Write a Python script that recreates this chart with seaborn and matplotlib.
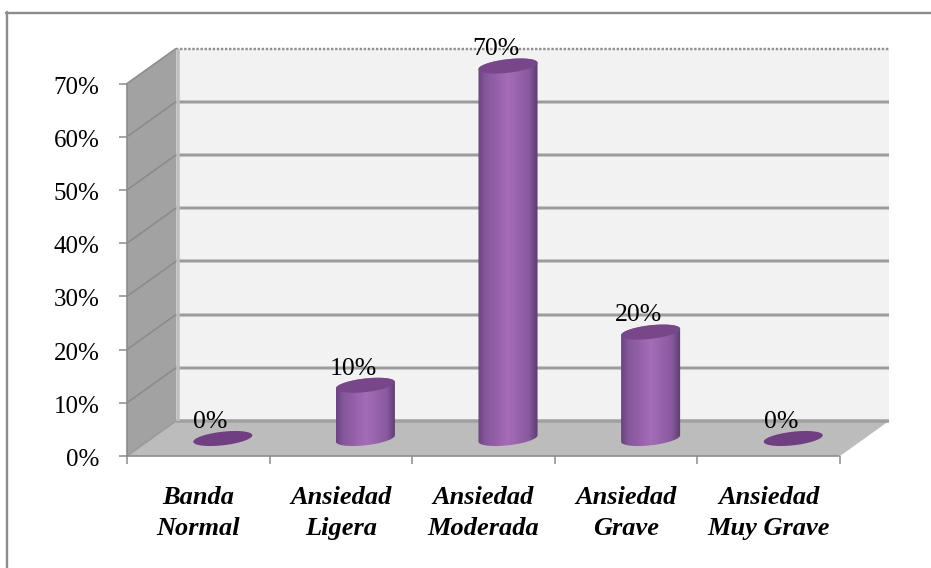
import numpy as np
import pandas as pd
import seaborn as sns
import matplotlib
matplotlib.use("Agg")
import matplotlib.pyplot as plt
from matplotlib.colors import LinearSegmentedColormap
from matplotlib.lines import Line2D
from matplotlib.patches import Polygon
from matplotlib.ticker import FixedLocator, FixedFormatter
from matplotlib.transforms import Affine2D

categories = ["Banda\nNormal", "Ansiedad\nLigera", "Ansiedad\nModerada",
              "Ansiedad\nGrave", "Ansiedad\nMuy Grave"]
values = [0.0, 0.10, 0.70, 0.20, 0.0]
value_labels = ["0%", "10%", "70%", "20%", "0%"]
y_ticks = [0.0, 0.1, 0.2, 0.3, 0.4, 0.5, 0.6, 0.7]
y_tick_labels = ["0%", "10%", "20%", "30%", "40%", "50%", "60%", "70%"]

sns.set_theme(style="white")
plt.rcParams["font.family"] = ["Liberation Serif", "DejaVu Serif"]

W, H = 931, 568
DEPTH_X, DEPTH_Y = 49, 35          # pixel shift from the front plane to the back wall
FRONT_L, FRONT_R = 127, 840
FRONT_BOTTOM, FRONT_TOP = 456, 83.5  # pixels from the top edge

fig = plt.figure(figsize=(W / 100, H / 100), dpi=100, facecolor="white")

# Frame around the chart area: only its top and left sides are on the canvas
frame_y = H - 13
frame_x = 7
fig.add_artist(Line2D([frame_x - 1, W], [frame_y, frame_y], transform=None,
                      color="#8c8c8c", lw=1.7))
fig.add_artist(Line2D([frame_x, frame_x], [0, frame_y + 1], transform=None,
                      color="#8c8c8c", lw=1.7))


def front_rect(shift_x=0.0, shift_y=0.0):
    return [(FRONT_L + shift_x) / W, (H - FRONT_BOTTOM + shift_y) / H,
            (FRONT_R - FRONT_L) / W, (FRONT_BOTTOM - FRONT_TOP) / H]


ax = fig.add_axes(front_rect(), zorder=1)
ax.set_xlim(-0.5, 4.5)
ax.set_ylim(0, 0.7)
ax.patch.set_visible(False)


def px(x, y, depth):
    """Pixel position of a data point at a relative depth into the chart box."""
    p = ax.transData.transform((x, y))
    return p[0] + DEPTH_X * depth, p[1] + DEPTH_Y * depth


def face(corners, color, zorder):
    ax.add_patch(Polygon([px(*c) for c in corners], closed=True, transform=None,
                         facecolor=color, edgecolor="none", clip_on=False, zorder=zorder))


def edge(a, b, color, width, zorder, style="-"):
    pa, pb = px(*a), px(*b)
    ax.plot([pa[0], pb[0]], [pa[1], pb[1]], transform=None, color=color, lw=width * 0.72,
            ls=style, clip_on=False, zorder=zorder, solid_capstyle="butt")


# Box: back wall, side wall and floor
xl, xr, top = -0.5, 4.5, 0.7
face([(xl, 0, 1), (xr, 0, 1), (xr, top, 1), (xl, top, 1)], "#f2f2f2", 0)
face([(xl, 0, 0), (xl, top, 0), (xl, top, 1), (xl, 0, 1)], "#a2a2a2", 0.1)
face([(xl, 0, 0), (xr, 0, 0), (xr, 0, 1), (xl, 0, 1)], "#bcbcbc", 0.1)

for v in y_ticks[1:-1]:
    edge((xl, v, 1), (xr, v, 1), "#c6c6c6", 4, 0.2)
    edge((xl, v, 1), (xr, v, 1), "#9c9c9c", 2, 0.3)
    edge((xl, v, 0), (xl, v, 1), "#8a8a8a", 1.5, 0.3)
edge((xl, top, 1), (xr, top, 1), "#8f8f8f", 2.4, 0.4, (0, (1, 0.7)))
edge((xl, top, 0), (xl, top, 1), "#8a8a8a", 1.5, 0.4)
edge((xl, 0, 1), (xr, 0, 1), "#a0a0a0", 3.5, 0.4)
edge((xl, 0, 0), (xl, 0, 1), "#9a9a9a", 1.5, 0.4)
edge((xl + 0.012, 0, 1), (xl + 0.012, top, 1), "#bdbdbd", 3.5, 0.4)

# Front axes
for side in ("top", "right"):
    ax.spines[side].set_visible(False)
for side in ("left", "bottom"):
    ax.spines[side].set_color("#8c8c8c")
    ax.spines[side].set_linewidth(1.2)
    ax.spines[side].set_linestyle((0, (1, 1)))
ax.yaxis.set_major_locator(FixedLocator(y_ticks))
ax.yaxis.set_major_formatter(FixedFormatter(y_tick_labels))
ax.xaxis.set_major_locator(FixedLocator(range(len(categories))))
ax.xaxis.set_major_formatter(FixedFormatter(categories))
ax.xaxis.set_minor_locator(FixedLocator(np.arange(-0.5, 5, 1)))
ax.tick_params(axis="y", which="major", left=True, length=5.8, width=1.1, color="#8c8c8c",
               labelsize=18, labelcolor="black", pad=14)
ax.tick_params(axis="x", which="major", bottom=False, length=0, pad=21.5)
ax.tick_params(axis="x", which="minor", bottom=True, length=5.4, width=1.1, color="#8c8c8c")
for lab in ax.get_yticklabels():
    lab.set_transform(lab.get_transform() + Affine2D().translate(0, -1.5))
for lab in ax.get_xticklabels():
    lab.set(fontsize=19, fontweight="bold", fontstyle="italic", color="black",
            linespacing=1.47, ha="center", va="top")

# Columns sit halfway into the box, on a transparent copy of the axes
bar_ax = fig.add_axes(front_rect(DEPTH_X / 2, DEPTH_Y / 2), zorder=2)
table = pd.DataFrame({"category": categories, "value": values})
sns.barplot(data=table, x="category", y="value", color="#a56cb8", width=0.414,
            errorbar=None, ax=bar_ax)
bar_ax.set_xlim(-0.5, 4.5)
bar_ax.set_ylim(0, 0.7)
bar_ax.axis("off")

px_y = (FRONT_BOTTOM - FRONT_TOP) / 0.7   # pixels per unit of value
RIM_B = 6.8 / px_y
RIM_TILT = 3.2 / px_y

shade = LinearSegmentedColormap.from_list(
    "cylinder", [(0, "#6a4480"), (0.12, "#85569b"), (0.5, "#a56cb8"),
                 (0.84, "#8a5aa0"), (0.95, "#6c4580"), (1, "#5d3a70")])


def rim(cx, a, base, t):
    return cx + a * np.cos(t), base + RIM_B * np.sin(t) + RIM_TILT * np.cos(t)


for patch, label in zip(list(bar_ax.patches), value_labels):
    x0, width, height = patch.get_x(), patch.get_width(), patch.get_height()
    patch.set_visible(False)
    cx, a = x0 + width / 2, width / 2
    if height > 0:
        lower = np.linspace(np.pi, 2 * np.pi, 40)
        upper = np.linspace(0, np.pi, 40)
        xs = np.r_[rim(cx, a, 0, lower)[0], rim(cx, a, height, upper)[0]]
        ys = np.r_[rim(cx, a, 0, lower)[1], rim(cx, a, height, upper)[1]]
        outline = Polygon(np.c_[xs, ys], closed=True, transform=bar_ax.transData)
        body = bar_ax.imshow(np.linspace(0, 1, 256)[None, :], cmap=shade, aspect="auto",
                             extent=[x0, x0 + width, -0.05, height + 0.05], zorder=3)
        body.set_clip_box(fig.bbox)
        body.set_clip_path(outline)
    cap = np.linspace(0, 2 * np.pi, 80)
    cap_x, cap_y = rim(cx, a, height, cap)
    bar_ax.add_patch(Polygon(np.c_[cap_x, cap_y], closed=True, clip_on=False, zorder=4,
                             facecolor="#774789" if height > 0 else "#703f82", edgecolor="none"))
    bar_ax.annotate(label, (cx, height), xytext=(-9, 12), textcoords="offset points",
                    ha="center", va="center", fontsize=18.5, color="black",
                    annotation_clip=False, zorder=5)
bar_ax.set_xlim(-0.5, 4.5)
bar_ax.set_ylim(0, 0.7)

fig.savefig("out.png", dpi=100, facecolor="white")
